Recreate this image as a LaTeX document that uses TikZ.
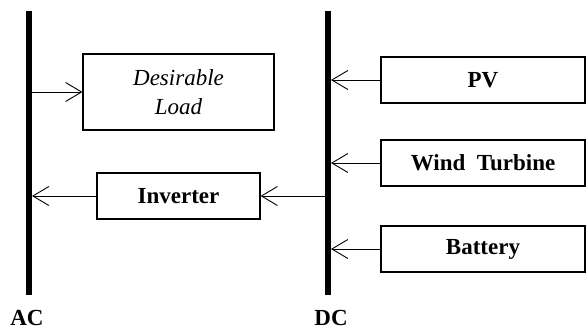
\documentclass[tikz,border=0pt]{standalone}
\usepackage{fontspec}
\setmainfont{Liberation Serif}
\usetikzlibrary{arrows.meta}

\begin{document}
\begin{tikzpicture}[x=1pt,y=-1pt,
    bus/.style={line width=6pt},
    block/.style={draw,line width=1.1pt,inner sep=0pt,minimum height=46pt,
      font=\fontsize{23}{29}\selectfont\bfseries},
    flow/.style={line width=0.9pt,-{Straight Barb[length=16pt,width=19pt,line width=0.9pt]},shorten >=3pt},
    buslabel/.style={font=\fontsize{23}{25}\selectfont\bfseries}]
    \useasboundingbox (0,0) rectangle (588,331);

    % AC and DC bus bars
    \coordinate (actop) at (29,11);
    \coordinate (acbot) at (29,295);
    \coordinate (dctop) at (328,11);
    \coordinate (dcbot) at (328,295);
    \draw[bus] (actop) -- (acbot);
    \draw[bus] (dctop) -- (dcbot);
    \node[buslabel] (aclabel) at (27,318) {AC};
    \node[buslabel] (dclabel) at (331,318) {DC};

    % AC side
    \node[block,minimum width=191pt,minimum height=76pt,align=center,
      font=\fontsize{23}{29}\selectfont\itshape]
      (load) at (178.5,92) {Desirable\\Load};
    \node[block,minimum width=163pt] (inv) at (178.5,196) {Inverter};

    % DC sources
    \node[block,minimum width=204pt] (pv) at (483,80) {PV};
    \node[block,minimum width=204pt] (wind) at (483,163) {Wind\ \ Turbine};
    \node[block,minimum width=204pt] (bat) at (483,249) {Battery};

    % Power flows
    \draw[flow,shorten >=0pt] (actop |- load.west) -- (load.west);
    \draw[flow,shorten >=0pt] (dctop |- inv.east) -- (inv.east);
    \draw[flow] (inv.west) -- (actop |- inv.west);
    \draw[flow] (pv.west) -- (dctop |- pv.west);
    \draw[flow] (wind.west) -- (dctop |- wind.west);
    \draw[flow] (bat.west) -- (dctop |- bat.west);
\end{tikzpicture}
\end{document}
